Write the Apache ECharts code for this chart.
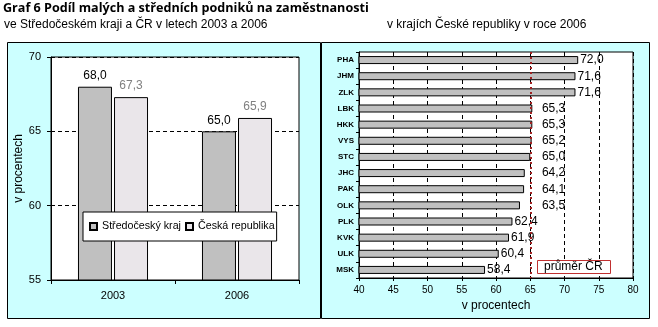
<!DOCTYPE html>
<html><head><meta charset="utf-8">
<script src="https://cdn.jsdelivr.net/npm/echarts@6/dist/echarts.min.js"></script>
<style>html,body{margin:0;padding:0;background:#fff}#c{width:658px;height:327px}</style>
</head><body><div id="c"></div>
<script>
// ---- data ----
const years = ['2003', '2006'];
const stcValues = [68.0, 65.0];      // Středočeský kraj
const crValues = [67.3, 65.9];       // Česká republika
const regions = ['PHA','JHM','ZLK','LBK','HKK','VYS','STC','JHC','PAK','OLK','PLK','KVK','ULK','MSK'];
const regionValues = [72.0, 71.6, 71.6, 65.3, 65.3, 65.2, 65.0, 64.2, 64.1, 63.5, 62.4, 61.9, 60.4, 58.4];
const crAverage = 65.1;
const shiftedRegions = ['LBK','HKK','VYS','STC','JHC','PAK','OLK'];

const FONT = "'Liberation Sans', Arial, sans-serif";
const fmt = v => v.toFixed(1).replace('.', ',');

const chart = echarts.init(document.getElementById('c'), null, {renderer: 'canvas'});

function buildRegionData(offsets) {
  return regionValues.map((v, i) => {
    const o = offsets ? offsets[i] : 0;
    return o ? {value: v, label: {offset: [o, 0]}} : v;
  });
}

const option = {
  animation: false,
  textStyle: {fontFamily: FONT},
  title: [
    {text: 'Graf 6 Podíl malých a středních podniků na zaměstnanosti', left: 3, top: 2, padding: 0,
     textStyle: {fontFamily: "'Open Sans', sans-serif", fontSize: 12.6, fontWeight: 'bold', color: '#000'}},
    {text: 've Středočeském kraji a ČR v letech 2003 a 2006', left: 4, top: 19, padding: 0,
     textStyle: {fontFamily: FONT, fontSize: 12, fontWeight: 'normal', color: '#000'}},
    {text: 'v krajích České republiky v roce 2006', left: 387, top: 19, padding: 0,
     textStyle: {fontFamily: FONT, fontSize: 12, fontWeight: 'normal', color: '#000'}}
  ],
  graphic: [
    {type: 'rect', z: -100, shape: {x: 7.5, y: 42.5, width: 313, height: 276},
     style: {fill: '#CCFFFF', stroke: '#000', lineWidth: 1}},
    {type: 'rect', z: -100, shape: {x: 321.5, y: 42.5, width: 328, height: 276},
     style: {fill: '#CCFFFF', stroke: '#000', lineWidth: 1}},
    {type: 'rect', z: 100, shape: {x: 537.5, y: 260.5, width: 73, height: 13},
     style: {fill: '#fff', stroke: '#C03030', lineWidth: 1}},
    {type: 'text', z: 101, left: 544, top: 261,
     style: {text: 'průměr ČR', font: '12px ' + FONT, fill: '#000'}}
  ],
  legend: {
    data: ['Středočeský kraj', 'Česká republika'],
    orient: 'horizontal',
    left: 83, top: 212,
    padding: [9, 2, 9, 6],
    backgroundColor: '#fff', borderColor: '#000', borderWidth: 1,
    itemWidth: 7, itemHeight: 7, itemGap: 4,
    icon: 'rect',
    textStyle: {fontFamily: FONT, fontSize: 10.7, color: '#000'}
  },
  grid: [
    {left: 51, top: 57, width: 248, height: 223, show: true, backgroundColor: '#fff', borderColor: '#000', borderWidth: 1},
    {left: 359, top: 52, width: 274, height: 226, show: true, backgroundColor: '#fff', borderColor: '#000', borderWidth: 1}
  ],
  xAxis: [
    {gridIndex: 0, type: 'category', data: years,
     axisLine: {lineStyle: {color: '#000'}},
     axisTick: {show: true, length: 4, lineStyle: {color: '#000'}},
     axisLabel: {fontFamily: FONT, fontSize: 11, color: '#000', margin: 10}},
    {gridIndex: 1, type: 'value', min: 40, max: 80, interval: 5,
     axisLine: {show: true, lineStyle: {color: '#000'}},
     axisTick: {show: true, length: 3, lineStyle: {color: '#000'}},
     axisLabel: {fontFamily: FONT, fontSize: 10, color: '#000', margin: 7},
     splitLine: {show: true, lineStyle: {color: '#000', type: [4, 3], width: 1}},
     name: 'v procentech', nameLocation: 'middle', nameGap: 20,
     nameTextStyle: {fontFamily: FONT, fontSize: 12, color: '#000'}}
  ],
  yAxis: [
    {gridIndex: 0, type: 'value', min: 55, max: 70, interval: 5,
     axisLine: {show: true, lineStyle: {color: '#000'}},
     axisTick: {show: true, length: 4, lineStyle: {color: '#000'}},
     axisLabel: {fontFamily: FONT, fontSize: 11, color: '#000', margin: 10},
     splitLine: {show: true, lineStyle: {color: '#000', type: [4, 3], width: 1}},
     name: 'v procentech', nameLocation: 'middle', nameGap: 21,
     nameTextStyle: {fontFamily: FONT, fontSize: 12, color: '#000'}},
    {gridIndex: 1, type: 'category', data: regions, inverse: true,
     axisLine: {show: true, lineStyle: {color: '#000'}},
     axisTick: {show: true, length: 3, lineStyle: {color: '#000'}},
     axisLabel: {fontFamily: FONT, fontSize: 8, fontWeight: 'bold', color: '#000', margin: 5}}
  ],
  series: [
    {name: 'Středočeský kraj', type: 'bar', xAxisIndex: 0, yAxisIndex: 0, data: stcValues,
     barWidth: 34, barGap: '6%',
     itemStyle: {color: '#C0C0C0', borderColor: '#000', borderWidth: 1},
     label: {show: true, position: 'top', distance: 5, formatter: p => fmt(p.value),
             fontFamily: FONT, fontSize: 12, color: '#000'}},
    {name: 'Česká republika', type: 'bar', xAxisIndex: 0, yAxisIndex: 0, data: crValues,
     barWidth: 34,
     itemStyle: {color: '#EAE6EA', borderColor: '#000', borderWidth: 1},
     label: {show: true, position: 'top', distance: 5, formatter: p => fmt(p.value),
             fontFamily: FONT, fontSize: 12, color: '#808080'}},
    {name: 'kraje', type: 'bar', xAxisIndex: 1, yAxisIndex: 1, data: buildRegionData(null),
     barWidth: 8,
     itemStyle: {color: '#C0C0C0', borderColor: '#000', borderWidth: 1},
     label: {show: true, position: 'right', distance: 2, formatter: p => fmt(p.value),
             fontFamily: FONT, fontSize: 12, color: '#000'},
     markLine: {silent: true, symbol: 'none', z: 10,
       label: {show: false},
       lineStyle: {color: '#A02020', type: [2, 3], width: 2},
       data: [{xAxis: crAverage}]}}
  ]
};
chart.setOption(option);

// move labels of bars near the average line to the right of it (as in the reference)
const avgPx = chart.convertToPixel({xAxisIndex: 1}, crAverage);
const offsets = regionValues.map((v, i) => {
  if (shiftedRegions.indexOf(regions[i]) < 0) return 0;
  const endPx = chart.convertToPixel({xAxisIndex: 1}, v);
  return (avgPx + 9) - endPx;
});
chart.setOption({series: [{}, {}, {data: buildRegionData(offsets)}]});
</script></body></html>
